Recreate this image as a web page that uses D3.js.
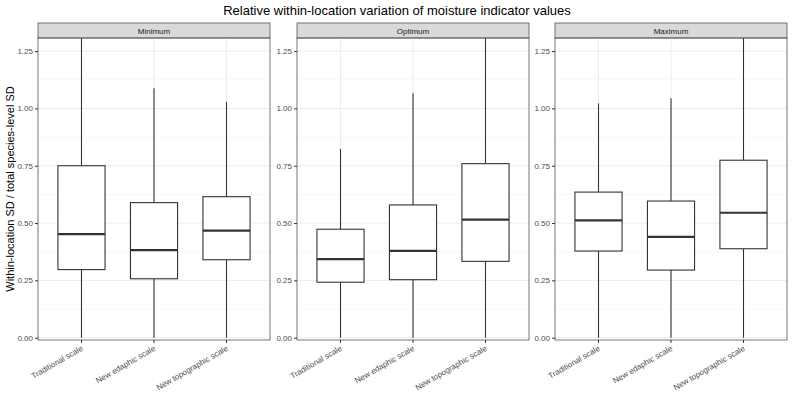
<!DOCTYPE html>
<html>
<head>
<meta charset="utf-8">
<script src="https://cdn.jsdelivr.net/npm/d3@7"></script>
<style>
  body { margin: 0; background: #fff; }
  text { font-family: "Liberation Sans", Arial, sans-serif; }
</style>
</head>
<body>
<div id="chart"></div>
<script>
// Data
const panels = ['Minimum', 'Optimum', 'Maximum'];
const scales = ['Traditional scale', 'New edaphic scale', 'New topographic scale'];
// per panel, per scale
const whiskerLow = [
    [0, 0, 0],
    [0, 0, 0],
    [0, 0, 0]
];
const q1 = [
    [0.297, 0.257, 0.340],
    [0.242, 0.253, 0.333],
    [0.378, 0.295, 0.388]
];
const median = [
    [0.452, 0.382, 0.467],
    [0.343, 0.379, 0.515],
    [0.512, 0.440, 0.545]
];
const q3 = [
    [0.750, 0.589, 0.615],
    [0.473, 0.579, 0.759],
    [0.635, 0.596, 0.774]
];
const whiskerHigh = [
    [1.60, 1.088, 1.029],
    [0.823, 1.066, 1.60],
    [1.022, 1.044, 1.60]
];
const yTicks = [0, 0.25, 0.5, 0.75, 1.0, 1.25];
const yMinor = [0.125, 0.375, 0.625, 0.875, 1.125];

const width = 794, height = 397;
const panelX = [38, 297, 555];
const panelW = 232;
const stripTop = 23, stripH = 15;
const plotTop = stripTop + stripH, plotBottom = 340;

const svg = d3.select('#chart')
    .append('svg')
    .attr('width', width)
    .attr('height', height);

svg.append('text')
    .attr('x', 397)
    .attr('y', 15)
    .attr('text-anchor', 'middle')
    .attr('font-size', '13px')
    .attr('fill', '#000')
    .text('Relative within-location variation of moisture indicator values');

svg.append('text')
    .attr('transform', `translate(14, ${(plotTop + plotBottom) / 2}) rotate(-90)`)
    .attr('text-anchor', 'middle')
    .attr('font-size', '11px')
    .attr('fill', '#000')
    .text('Within-location SD / total species-level SD');

const y = d3.scaleLinear()
    .domain([-0.01, 1.307])
    .range([plotBottom, plotTop]);

svg.append('defs').append('clipPath')
    .attr('id', 'clip')
    .append('rect')
    .attr('x', 0).attr('y', 0)
    .attr('width', panelW).attr('height', plotBottom - plotTop);

panels.forEach((name, p) => {
    const x0 = panelX[p];
    const x = d3.scaleLinear()
        .domain([0.4, 3.6])
        .range([0, panelW]);
    const bandW = x(1.65) - x(1);

    const g = svg.append('g').attr('transform', `translate(${x0},0)`);

    // strip
    g.append('rect')
        .attr('x', 0).attr('y', stripTop)
        .attr('width', panelW).attr('height', stripH)
        .attr('fill', '#d9d9d9')
        .attr('stroke', '#555')
        .attr('stroke-width', 0.8);
    g.append('text')
        .attr('x', panelW / 2)
        .attr('y', stripTop + stripH / 2 + 3)
        .attr('text-anchor', 'middle')
        .attr('font-size', '8px')
        .attr('fill', '#1a1a1a')
        .text(name);

    const plot = g.append('g').attr('transform', `translate(0,${plotTop})`);
    const yy = v => y(v) - plotTop;

    // grid
    yMinor.forEach(v => {
        plot.append('line')
            .attr('x1', 0).attr('x2', panelW)
            .attr('y1', yy(v)).attr('y2', yy(v))
            .attr('stroke', '#f2f2f2').attr('stroke-width', 0.6);
    });
    yTicks.forEach(v => {
        plot.append('line')
            .attr('x1', 0).attr('x2', panelW)
            .attr('y1', yy(v)).attr('y2', yy(v))
            .attr('stroke', '#ebebeb').attr('stroke-width', 1);
    });
    scales.forEach((s, i) => {
        plot.append('line')
            .attr('x1', x(i + 1)).attr('x2', x(i + 1))
            .attr('y1', 0).attr('y2', plotBottom - plotTop)
            .attr('stroke', '#ebebeb').attr('stroke-width', 1);
    });

    // boxes
    const boxes = plot.append('g').attr('clip-path', 'url(#clip)');
    scales.forEach((s, i) => {
        const cx = x(i + 1);
        boxes.append('line')
            .attr('x1', cx).attr('x2', cx)
            .attr('y1', yy(q3[p][i])).attr('y2', yy(whiskerHigh[p][i]))
            .attr('stroke', '#333').attr('stroke-width', 1.1);
        boxes.append('line')
            .attr('x1', cx).attr('x2', cx)
            .attr('y1', yy(q1[p][i])).attr('y2', yy(whiskerLow[p][i]))
            .attr('stroke', '#333').attr('stroke-width', 1.1);
        boxes.append('rect')
            .attr('x', cx - bandW / 2)
            .attr('y', yy(q3[p][i]))
            .attr('width', bandW)
            .attr('height', yy(q1[p][i]) - yy(q3[p][i]))
            .attr('fill', '#fff')
            .attr('stroke', '#333').attr('stroke-width', 1.1);
        boxes.append('line')
            .attr('x1', cx - bandW / 2).attr('x2', cx + bandW / 2)
            .attr('y1', yy(median[p][i])).attr('y2', yy(median[p][i]))
            .attr('stroke', '#333').attr('stroke-width', 2.2);
    });

    // panel border
    plot.append('rect')
        .attr('x', 0).attr('y', 0)
        .attr('width', panelW).attr('height', plotBottom - plotTop)
        .attr('fill', 'none')
        .attr('stroke', '#555').attr('stroke-width', 0.8);

    // y axis
    const yAxis = g.append('g')
        .call(d3.axisLeft(y).tickValues(yTicks).tickSize(3).tickPadding(2)
            .tickFormat(d3.format('.2f')));
    yAxis.select('.domain').remove();
    yAxis.selectAll('line').attr('stroke', '#333');
    yAxis.selectAll('text').attr('font-size', '8px').attr('fill', '#4d4d4d')
        .attr('font-family', '"Liberation Sans", Arial, sans-serif');

    // x axis
    const xAxis = g.append('g').attr('transform', `translate(0,${plotBottom})`);
    scales.forEach((s, i) => {
        const cx = x(i + 1);
        xAxis.append('line')
            .attr('x1', cx).attr('x2', cx)
            .attr('y1', 0).attr('y2', 3)
            .attr('stroke', '#333');
        xAxis.append('text')
            .attr('transform', `translate(${cx + 2},${10}) rotate(-30)`)
            .attr('text-anchor', 'end')
            .attr('font-size', '8px')
            .attr('fill', '#4d4d4d')
            .text(s);
    });
});
</script>
</body>
</html>
